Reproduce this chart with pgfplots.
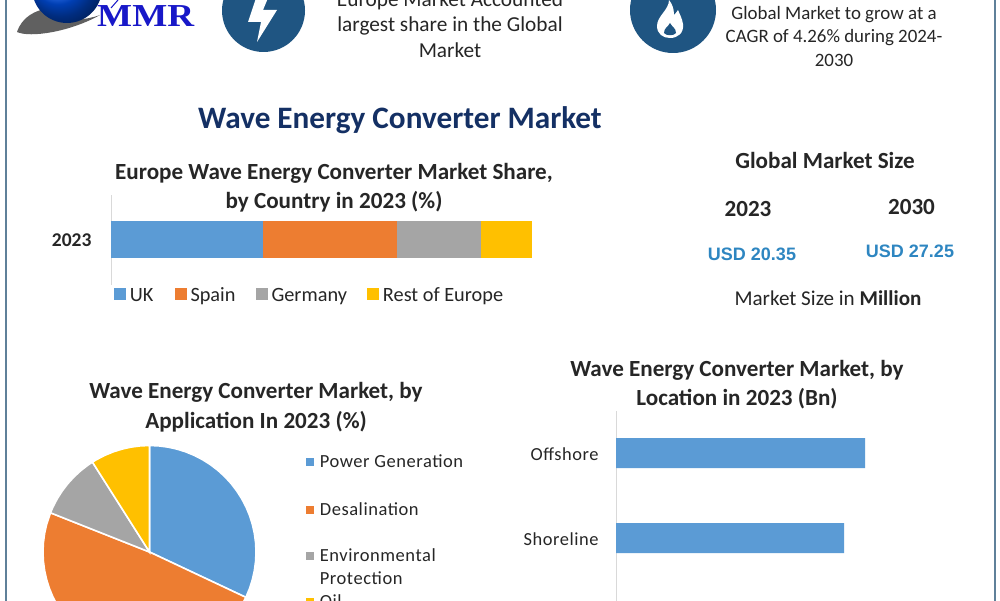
\documentclass[border=0pt]{standalone}
\usepackage{fontspec}
\setmainfont{Carlito}
\newfontfamily\serifb{Liberation Serif}
\newfontfamily\arialf{Liberation Sans}
\usepackage{pgfplots}
\pgfplotsset{compat=1.18}
\definecolor{cblue}{HTML}{5B9BD5}
\definecolor{corange}{HTML}{ED7D31}
\definecolor{cgrey}{HTML}{A5A5A5}
\definecolor{cyellow}{HTML}{FFC000}
\definecolor{ctxt}{HTML}{262626}
\definecolor{ctitle}{HTML}{143064}
\definecolor{cicon}{HTML}{1F5582}
\definecolor{cusd}{HTML}{2E86C1}
\definecolor{cborder}{HTML}{5F8099}
\definecolor{cmmr}{HTML}{1818C8}
\newcommand{\T}[4][]{\node[text=ctxt,inner sep=0pt,anchor=base,#1] at (#2pt,{(600-#3)*1pt}) {#4};}
\pgfplotsset{sq/.style={legend image code/.code={\path[##1,draw=none] (0pt,-4pt) rectangle (#1,{#1-4pt});}}}
\begin{document}
\begin{tikzpicture}
\useasboundingbox (0pt,0pt) rectangle (1000pt,600pt);
\clip (0pt,0pt) rectangle (1000pt,600pt);
\fill[white] (0pt,0pt) rectangle (1000pt,600pt);
% border
\draw[cborder,line width=2pt] (5.5pt,-10pt) -- (5.5pt,610pt);
\draw[cborder,line width=2pt] (994.5pt,-10pt) -- (994.5pt,610pt);
% logo
\fill[gray!75!black] (17pt,568pt) .. controls (22pt,583pt) and (35pt,590pt) .. (50pt,592pt) .. controls (38pt,585pt) and (70pt,574pt) .. (100pt,585pt) .. controls (70pt,568pt) and (30pt,562pt) .. (17pt,568pt) -- cycle;
\shade[ball color=blue!65!cyan] (67pt,612pt) ellipse (35pt and 35pt);
\draw[cmmr,line width=1pt] (118pt,600pt) -- (111pt,592pt);
\node[anchor=base west,inner sep=0pt,text=cmmr,xscale=1.16,font=\serifb\bfseries\fontsize{32}{32}\selectfont] at (97pt,573pt) {MMR};
% icons
\fill[cicon] (263.5pt,589.5pt) circle (41.5pt);
\fill[white] (256pt,602pt) -- (248pt,578pt) -- (261pt,578pt) -- (257pt,558pt) -- (277pt,590pt) -- (263pt,590pt) -- (268pt,602pt) -- cycle;
\fill[cicon] (673pt,590pt) ellipse (43pt and 43pt);
\fill[white] (669pt,600pt) .. controls (669pt,590pt) and (657pt,584pt) .. (657pt,574pt) .. controls (657pt,566pt) and (663pt,562pt) .. (670pt,562pt) .. controls (678pt,562pt) and (684pt,567pt) .. (683pt,576pt) .. controls (682pt,582pt) and (680pt,585pt) .. (678pt,590pt) .. controls (676pt,587pt) and (675pt,586pt) .. (674pt,585pt) .. controls (674pt,592pt) and (672pt,596pt) .. (669pt,600pt) -- cycle;
\fill[cicon] (670pt,577pt) .. controls (668pt,573pt) and (664pt,572pt) .. (664pt,567pt) .. controls (666pt,564pt) and (674pt,564pt) .. (676pt,567pt) .. controls (676pt,572pt) and (672pt,573pt) .. (670pt,577pt) -- cycle;
% top texts
\def\fa{\fontsize{21.3}{22}\selectfont}
\def\fb{\fontsize{18.9}{20}\selectfont}
\T{450}{7}{\fa Europe Market Accounted}
\T{450}{32}{\fa largest share in the Global}
\T{450}{58}{\fa Market}
\T{834}{19.5}{\fb Global Market to grow at a}
\T{834}{42.5}{\fb CAGR of 4.26\% during 2024-}
\T{834}{67}{\fb 2030}
\T[text=ctitle]{400}{129}{\fontsize{31.2}{32}\selectfont\bfseries Wave Energy Converter Market}
% chart titles
\def\fc{\fontsize{23.1}{24}\selectfont\bfseries}
\T{334}{180}{\fc Europe Wave Energy Converter Market Share,}
\T{334}{209}{\fc by Country in 2023 (\%)}
\T{256}{398}{\fc Wave Energy Converter Market, by}
\T{256}{428}{\fc Application In 2023 (\%)}
\T{737}{377}{\fc Wave Energy Converter Market, by}
\T{737}{405}{\fc Location in 2023 (Bn)}
% right panel
\T{825}{169}{\fc Global Market Size}
\T{748}{217}{\fc 2023}
\T{911.5}{215}{\fc 2030}
\T[text=cusd]{752}{261}{\arialf\fontsize{18}{20}\selectfont\bfseries USD 20.35}
\T[text=cusd]{910}{258}{\arialf\fontsize{18}{20}\selectfont\bfseries USD 27.25}
\T{828}{306}{\fontsize{21.1}{22}\selectfont Market Size in \textbf{Million}}
% stacked bar
\begin{axis}[
  scale only axis, width=421pt, height=90pt,
  at={(111pt,315pt)}, anchor=south west,
  xbar stacked, bar width=37pt,
  xmin=0, xmax=100, ymin=-1, ymax=1,
  axis x line=none, axis y line=left,
  y axis line style={-,draw=gray!30,line width=1pt},
  ytick={0}, yticklabels={2023}, major tick length=0pt,
  yticklabel style={font=\fontsize{19.5}{20}\selectfont\bfseries,text=ctxt,xshift=-16pt},
  sq=12pt,
  legend columns=4,
  legend cell align=left,
  legend style={at={(rel axis cs:0.007,-0.011)},anchor=north west,draw=none,fill=none,inner sep=0pt,outer sep=0pt,
    font=\fontsize{20.3}{22}\selectfont,text=ctxt,
    /tikz/column 1/.style={column sep=2pt},
    /tikz/column 3/.style={column sep=2pt},
    /tikz/column 5/.style={column sep=2pt},
    /tikz/column 7/.style={column sep=2pt},
    /tikz/column 2/.style={column sep=19pt},
    /tikz/column 4/.style={column sep=18pt},
    /tikz/column 6/.style={column sep=18pt}},
]
\addplot[fill=cblue,draw=none] coordinates {(36.1,0)}; \addlegendentry{UK}
\addplot[fill=corange,draw=none] coordinates {(31.8,0)}; \addlegendentry{Spain}
\addplot[fill=cgrey,draw=none] coordinates {(20,0)}; \addlegendentry{Germany}
\addplot[fill=cyellow,draw=none] coordinates {(12.1,0)}; \addlegendentry{Rest of Europe}
\end{axis}
% pie
\begin{axis}[
  scale only axis, width=213pt, height=213pt,
  at={(43pt,154.5pt)}, anchor=north west,
  xmin=-1, xmax=1, ymin=-1, ymax=1, hide axis, clip=false,
  sq=8pt,
  legend cell align=left,
  legend style={at={(rel axis cs:1.234,0.966)},anchor=north west,draw=none,fill=none,inner sep=0pt,outer sep=0pt,
    row sep=5pt,font=\fontsize{18.5}{20}\selectfont\addfontfeatures{LetterSpace=3},text=ctxt,
    /tikz/column 1/.style={column sep=4pt}},
]
\addplot[data cs=polar,fill=cblue,draw=white,line width=1.6pt] coordinates {(0,0) (90,1) (85,1) (80,1) (75,1) (70,1) (65,1) (60,1) (55,1) (50,1) (45,1) (40,1) (35,1) (30,1) (25,1) (20,1) (15,1) (10,1) (5,1) (0,1) (-5,1) (-10,1) (-15,1) (-20,1) (-25.2,1)} -- cycle;
\addlegendentry{Power Generation}
\addlegendimage{empty legend}
\addlegendentry{\rule{0pt}{14pt}}
\addplot[data cs=polar,fill=corange,draw=white,line width=1.6pt] coordinates {(0,0) (-25.2,1) (-30,1) (-35,1) (-40,1) (-45,1) (-50,1) (-55,1) (-60,1) (-65,1) (-70,1) (-75,1) (-80,1) (-85,1) (-90,1) (-95,1) (-100,1) (-105,1) (-110,1) (-115,1) (-120,1) (-125,1) (-130,1) (-135,1) (-140,1) (-145,1) (-150,1) (-155,1) (-160,1) (-165,1) (-170,1) (-175,1) (-180,1) (-185,1) (-190,1) (-195,1) (-201.6,1)} -- cycle;
\addlegendentry{Desalination}
\addlegendimage{empty legend}
\addlegendentry{\rule{0pt}{12pt}}
\addplot[data cs=polar,fill=cgrey,draw=white,line width=1.6pt] coordinates {(0,0) (158.4,1) (155,1) (150,1) (145,1) (140,1) (135,1) (130,1) (125,1) (122.4,1)} -- cycle;
\addlegendentry{Environmental}
\addlegendimage{empty legend}
\addlegendentry{Protection}
\addplot[data cs=polar,fill=cyellow,draw=white,line width=1.6pt] coordinates {(0,0) (122.4,1) (120,1) (115,1) (110,1) (105,1) (100,1) (95,1) (90,1)} -- cycle;
\addlegendentry{Oil}
\end{axis}
% location bars
\begin{axis}[
  scale only axis, width=300pt, height=212.5pt,
  at={(616pt,189.5pt)}, anchor=north west,
  xbar, bar width=30pt,
  xmin=0, xmax=15, ymin=0, ymax=2.5,
  axis x line=none, axis y line=left,
  y axis line style={-,draw=gray!30,line width=1pt},
  ytick={1,2}, yticklabels={Shoreline,Offshore}, major tick length=0pt,
  yticklabel style={font=\fontsize{18.4}{20}\selectfont\addfontfeatures{LetterSpace=3},text=ctxt,xshift=-14pt,yshift=-0.7pt},
]
\addplot[fill=cblue,draw=none] coordinates {(12.45,2) (11.4,1)};
\end{axis}
\end{tikzpicture}
\end{document}
